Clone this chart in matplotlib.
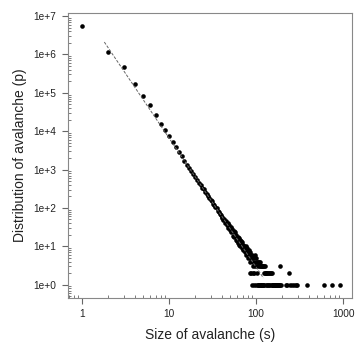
import matplotlib
matplotlib.use("Agg")
import matplotlib.pyplot as plt
import numpy as np
from matplotlib.ticker import LogLocator, FixedLocator, FixedFormatter, NullFormatter

plt.rcParams['font.family'] = ['Liberation Sans', 'DejaVu Sans']

# avalanche sizes 1..90 and their counts
size_main = list(range(1, 91))
count_main = [5.5e6, 1.17e6, 4.7e5, 1.66e5, 8.1e4, 4.7e4, 2.7e4, 1.58e4, 1.05e4, 7300,
              5200, 3800, 2800, 2200, 1700, 1340, 1120, 900, 770, 630,
              550, 460, 405, 340, 305, 262, 235, 200, 186, 160,
              148, 128, 119, 104, 98, 85, 80, 70, 66, 58,
              56, 48, 53, 41, 46, 35, 41, 30, 36, 26,
              32, 23, 29, 19, 25, 18, 23, 15, 20, 14,
              18, 12, 16, 11, 15, 10, 14, 9, 13, 8,
              11, 8, 10, 9, 7, 10, 6, 8, 9, 5,
              7, 8, 6, 5, 7, 4, 6, 5, 1, 6]

# tail: large avalanches with only a handful of counts
size_tail = [91, 92, 93, 94, 95, 96, 97, 98, 99, 100, 101, 102, 103, 104, 105, 106,
             107, 108, 109, 110, 111, 112, 113, 114, 115, 116, 117, 118, 119, 120,
             121, 122, 123, 124, 125, 126, 128, 130, 131, 133, 134, 136, 138, 140,
             142, 144, 145, 148, 150, 152, 153, 155, 158, 160, 163, 166, 169, 172,
             175, 178, 181, 185, 189, 190, 194, 221, 228, 237, 242, 259, 275, 290,
             296, 385, 598, 734, 914, 85, 88, 93]
count_tail = [4, 5, 3, 1, 2, 6, 3, 4, 1, 5, 3, 4, 2, 1, 4, 1,
              3, 4, 1, 3, 1, 4, 1, 3, 1, 3, 1, 3, 1, 3,
              1, 3, 1, 2, 3, 2, 2, 2, 1, 2, 1, 2, 1, 2,
              1, 2, 1, 2, 1, 2, 1, 1, 1, 1, 1, 1, 1, 1,
              1, 1, 1, 1, 3, 1, 1, 1, 1, 2, 1, 1, 1, 1,
              1, 1, 1, 1, 1, 2, 2, 2]

# power-law fit line end points
fit_x = [1.8, 121]
fit_y = [2.1e6, 1.5]

x_ticks = [1, 10, 100, 1000]
x_labels = ['1', '10', '100', '1000']
y_ticks = [1e0, 1e1, 1e2, 1e3, 1e4, 1e5, 1e6, 1e7]
y_labels = ['1e+0', '1e+1', '1e+2', '1e+3', '1e+4', '1e+5', '1e+6', '1e+7']

fig = plt.figure(figsize=(3.64, 3.51), dpi=100)
ax = fig.add_axes([0.187, 0.152, 0.780, 0.811])

sizes = size_main + size_tail
counts = count_main + count_tail
ax.plot(sizes, counts, 'o', color='black', markersize=3.3, markeredgewidth=0)
ax.plot(fit_x, fit_y, '--', color='#666666', linewidth=0.7, dashes=(3, 1.5))

ax.set_xscale('log')
ax.set_yscale('log')
ax.set_xlim(0.69, 1260)
ax.set_ylim(0.46, 1.2e7)

ax.xaxis.set_major_locator(FixedLocator(x_ticks))
ax.xaxis.set_major_formatter(FixedFormatter(x_labels))
ax.yaxis.set_major_locator(FixedLocator(y_ticks))
ax.yaxis.set_major_formatter(FixedFormatter(y_labels))
ax.xaxis.set_minor_locator(LogLocator(base=10, subs=np.arange(2, 10), numticks=20))
ax.yaxis.set_minor_locator(LogLocator(base=10, subs=np.arange(2, 10), numticks=20))
ax.xaxis.set_minor_formatter(NullFormatter())
ax.yaxis.set_minor_formatter(NullFormatter())

ax.tick_params(which='major', direction='out', length=4.3, width=0.8, color='#666666',
               labelsize=7.3, labelcolor='#222222', pad=4)
ax.tick_params(which='minor', direction='in', length=2, width=0.6, color='#666666')

for sp in ax.spines.values():
    sp.set_color('#888888')
    sp.set_linewidth(0.8)

ax.set_xlabel('Size of avalanche (s)', fontsize=10, color='#222222', labelpad=6)
ax.set_ylabel('Distribution of avalanche (p)', fontsize=10, color='#222222', labelpad=5)

fig.savefig('out.png', dpi=100)
